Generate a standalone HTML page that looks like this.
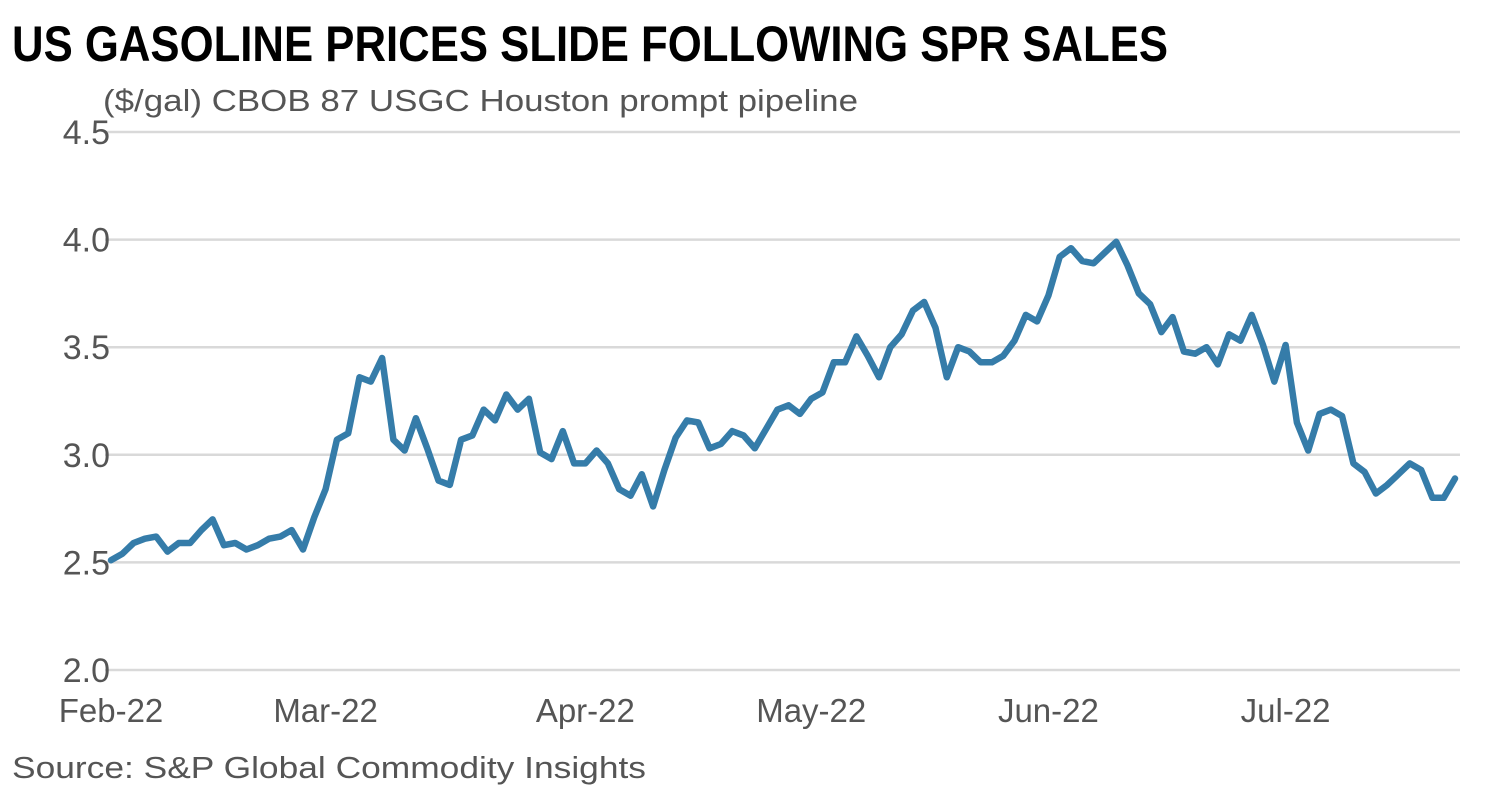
<!DOCTYPE html>
<html><head><meta charset="utf-8"><style>
html,body{margin:0;padding:0;background:#fff;}
svg{display:block;font-family:"Liberation Sans",sans-serif;}
</style></head><body>
<svg width="1502" height="800" viewBox="0 0 1502 800">
<text x="12" y="61" font-size="50" font-weight="bold" fill="#000" textLength="1156" lengthAdjust="spacingAndGlyphs" font-family="Liberation Sans Narrow, Liberation Sans, sans-serif">US GASOLINE PRICES SLIDE FOLLOWING SPR SALES</text>
<text x="103" y="111" font-size="31" fill="#555" textLength="755" lengthAdjust="spacingAndGlyphs">($/gal) CBOB 87 USGC Houston prompt pipeline</text>
<g id="grid"></g>
<g id="yt"></g>
<g id="xt"></g>
<path id="line" fill="none" stroke="#357ca9" stroke-width="6.5" stroke-linejoin="round" stroke-linecap="round"/>
<text x="12" y="778" font-size="31" fill="#555" textLength="634" lengthAdjust="spacingAndGlyphs">Source: S&amp;P Global Commodity Insights</text>
</svg>
<script>
const yTicks = [2.0, 2.5, 3.0, 3.5, 4.0, 4.5];
const yTickLabels = ["2.0","2.5","3.0","3.5","4.0","4.5"];
const xLabels = ["Feb-22","Mar-22","Apr-22","May-22","Jun-22","Jul-22"];
const xLabelIdx = [0, 19, 42, 62, 83, 104];
const prices = [2.51,2.54,2.59,2.61,2.62,2.55,2.59,2.59,2.65,2.70,2.58,2.59,2.56,2.58,2.61,2.62,2.65,2.56,2.71,2.84,
3.07,3.10,3.36,3.34,3.45,3.07,3.02,3.17,3.03,2.88,2.86,3.07,3.09,3.21,3.16,3.28,3.21,3.26,3.01,2.98,
3.11,2.96,2.96,3.02,2.96,2.84,2.81,2.91,2.76,2.93,3.08,3.16,3.15,3.03,3.05,3.11,3.09,3.03,3.12,3.21,
3.23,3.19,3.26,3.29,3.43,3.43,3.55,3.46,3.36,3.50,3.56,3.67,3.71,3.59,3.36,3.50,3.48,3.43,3.43,3.46,
3.53,3.65,3.62,3.74,3.92,3.96,3.90,3.89,3.94,3.99,3.88,3.75,3.70,3.57,3.64,3.48,3.47,3.50,3.42,3.56,
3.53,3.65,3.51,3.34,3.51,3.15,3.02,3.19,3.21,3.18,2.96,2.92,2.82,2.86,2.91,2.96,2.93,2.80,2.80,2.89];
const NS="http://www.w3.org/2000/svg";
const x0=111, x1=1455, yTop=132, yBot=670, vMin=2.0, vMax=4.5;
function xs(i){return x0+(x1-x0)*i/(prices.length-1);}
function ys(v){return yBot-(v-vMin)/(vMax-vMin)*(yBot-yTop);}
const grid=document.getElementById('grid'), yt=document.getElementById('yt'), xt=document.getElementById('xt');
yTicks.forEach((t,k)=>{
  const l=document.createElementNS(NS,'line');
  l.setAttribute('x1',105);l.setAttribute('x2',1460);
  l.setAttribute('y1',ys(t));l.setAttribute('y2',ys(t));
  l.setAttribute('stroke','#d9d9d9');l.setAttribute('stroke-width',2.5);
  
  
  grid.appendChild(l);
  const tx=document.createElementNS(NS,'text');
  tx.setAttribute('x',110);tx.setAttribute('y',ys(t)+12);
  tx.setAttribute('text-anchor','end');tx.setAttribute('font-size','34');tx.setAttribute('fill','#555');
  tx.textContent=yTickLabels[k];
  
  
  yt.appendChild(tx);
});
xLabels.forEach((s,k)=>{
  const tx=document.createElementNS(NS,'text');
  tx.setAttribute('x',xs(xLabelIdx[k]));tx.setAttribute('y',722);
  tx.setAttribute('text-anchor','middle');tx.setAttribute('font-size','33');tx.setAttribute('fill','#555');
  tx.textContent=s;
  
  
  xt.appendChild(tx);
});
document.getElementById('line').setAttribute('d',prices.map((v,i)=>(i?'L':'M')+xs(i).toFixed(1)+','+ys(v).toFixed(1)).join(''));
</script>
</body></html>
